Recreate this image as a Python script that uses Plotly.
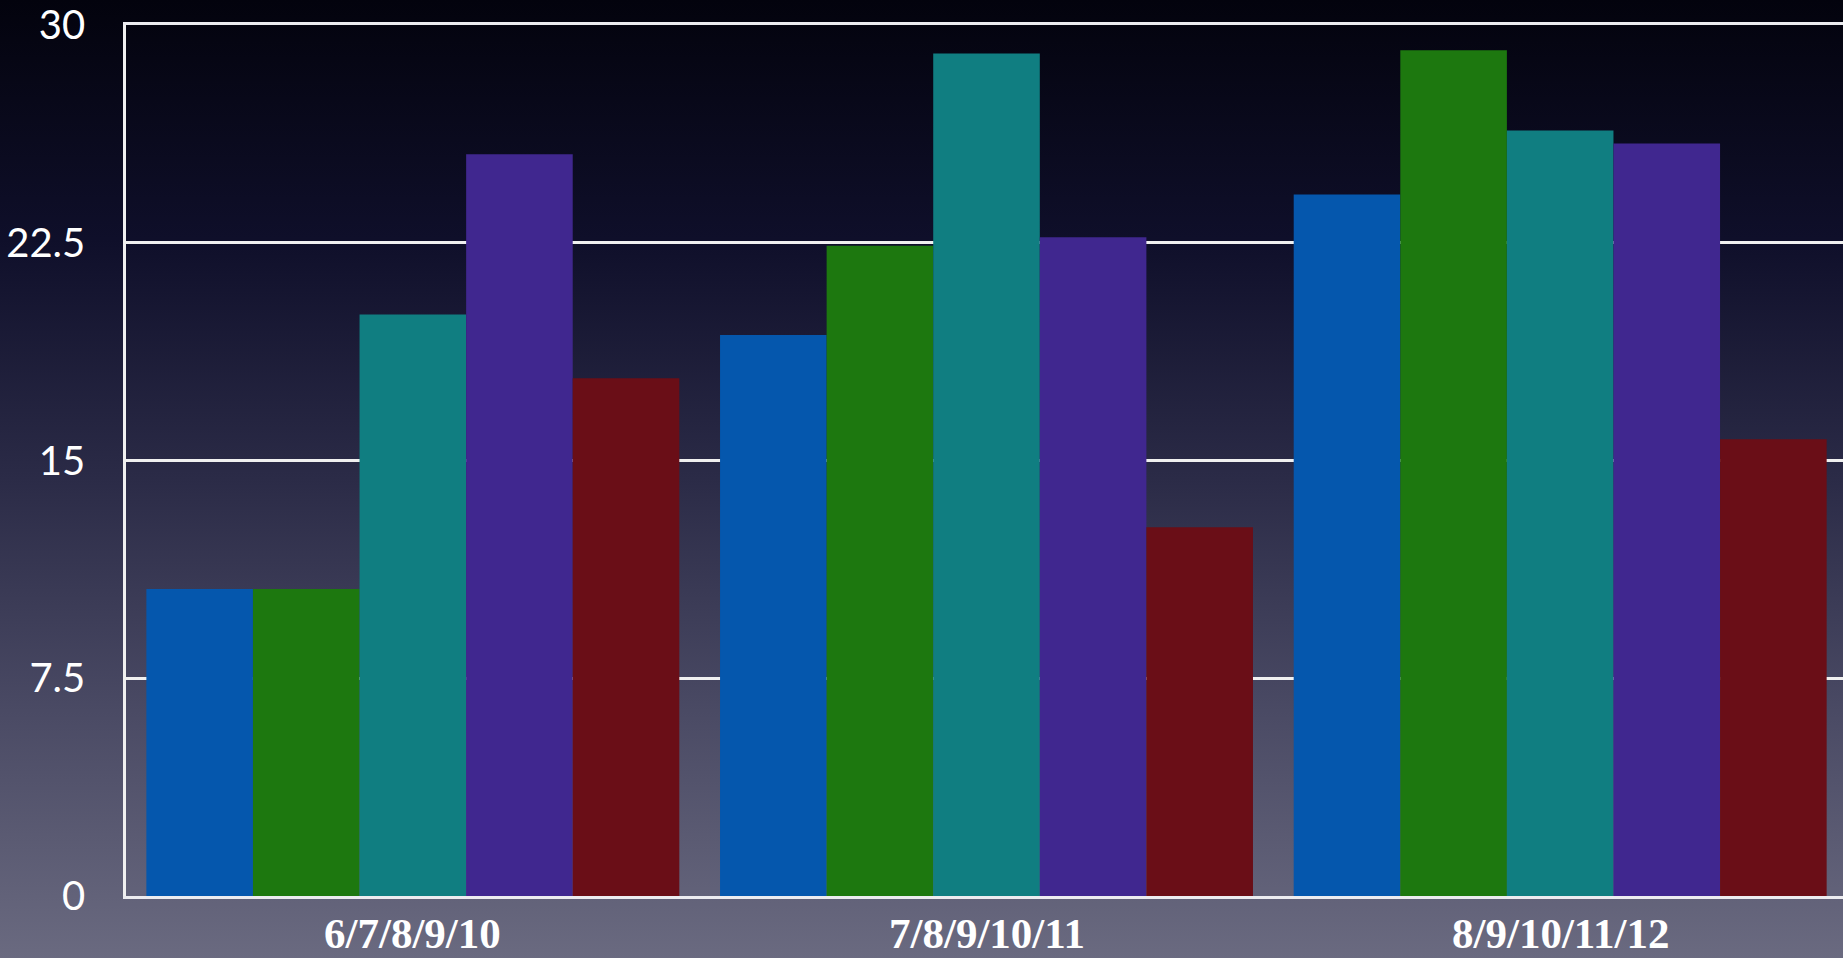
import plotly.graph_objects as go

categories = ["6/7/8/9/10", "7/8/9/10/11", "8/9/10/11/12"]
series_names = ["A", "B", "C", "D", "E"]
series_values = {
    "A": [10.57, 19.32, 24.16],
    "B": [10.57, 22.40, 29.13],
    "C": [20.03, 29.02, 26.37],
    "D": [25.55, 22.69, 25.92],
    "E": [17.83, 12.70, 15.73],
}
series_colors = {
    "A": "#0557ad",
    "B": "#1d780f",
    "C": "#107e81",
    "D": "#40278f",
    "E": "#6a0e17",
}
y_ticks = [0, 7.5, 15, 22.5, 30]
y_tick_labels = ["0", "7.5", "15", "22.5", "30"]

W, H = 1843, 958
ML, MT, MB = 126, 25, 62
PW, PH = W - ML, H - MT - MB

bg_svg = (
    "data:image/svg+xml;utf8,"
    "<svg xmlns='http://www.w3.org/2000/svg' width='100' height='100' preserveAspectRatio='none'>"
    "<defs><linearGradient id='g' x1='0' y1='0' x2='0' y2='1'>"
    "<stop offset='0' stop-color='%2303030d'/>"
    "<stop offset='0.25' stop-color='%230f0f2a'/>"
    "<stop offset='0.5' stop-color='%232b2b47'/>"
    "<stop offset='0.75' stop-color='%234b4b65'/>"
    "<stop offset='1' stop-color='%236a6a80'/>"
    "</linearGradient></defs>"
    "<rect width='100' height='100' fill='url(%23g)'/></svg>"
)

fig = go.Figure()
for name in series_names:
    fig.add_trace(go.Bar(
        x=categories,
        y=series_values[name],
        name=name,
        marker=dict(color=series_colors[name], line=dict(width=0)),
        showlegend=False,
    ))

label_font = dict(family="Liberation Serif", size=43, color="white", weight="bold")
annotations = [
    dict(x=c, xref="x", y=-MB / PH, yref="paper", text=c, showarrow=False,
         xanchor="center", yanchor="bottom", font=label_font, borderpad=0)
    for c in categories
]

fig.update_layout(
    width=W, height=H,
    barmode="group",
    bargap=0.071,
    bargroupgap=0,
    paper_bgcolor="#1a1a30",
    plot_bgcolor="rgba(0,0,0,0)",
    margin=dict(l=ML, r=0, t=MT, b=MB, pad=0, autoexpand=False),
    images=[dict(
        source=bg_svg, xref="paper", yref="paper",
        x=-ML / PW, y=1 + MT / PH, sizex=W / PW, sizey=H / PH,
        sizing="stretch", layer="below", xanchor="left", yanchor="top",
    )],
    annotations=annotations,
    xaxis=dict(
        range=[-0.5, 2.493],
        automargin=False,
        showgrid=False,
        showline=True, linecolor="#ececf0", linewidth=3, mirror=True,
        ticks="",
        showticklabels=False,
    ),
    yaxis=dict(
        range=[0, 30],
        automargin=False,
        tickvals=y_ticks,
        ticktext=y_tick_labels,
        showgrid=True, gridcolor="#f0f0f0", gridwidth=2.5,
        zeroline=False,
        showline=True, linecolor="#f0f0f0", linewidth=2.5,
        ticks="",
        tickfont=dict(family="Lato", size=40, color="white"),
        ticklabelstandoff=30,
    ),
)

fig.write_html(
    "out.html",
    config={"displayModeBar": False},
    post_script="document.body.style.margin='0';document.body.style.overflow='hidden';document.body.style.background='#1a1a30';",
)
